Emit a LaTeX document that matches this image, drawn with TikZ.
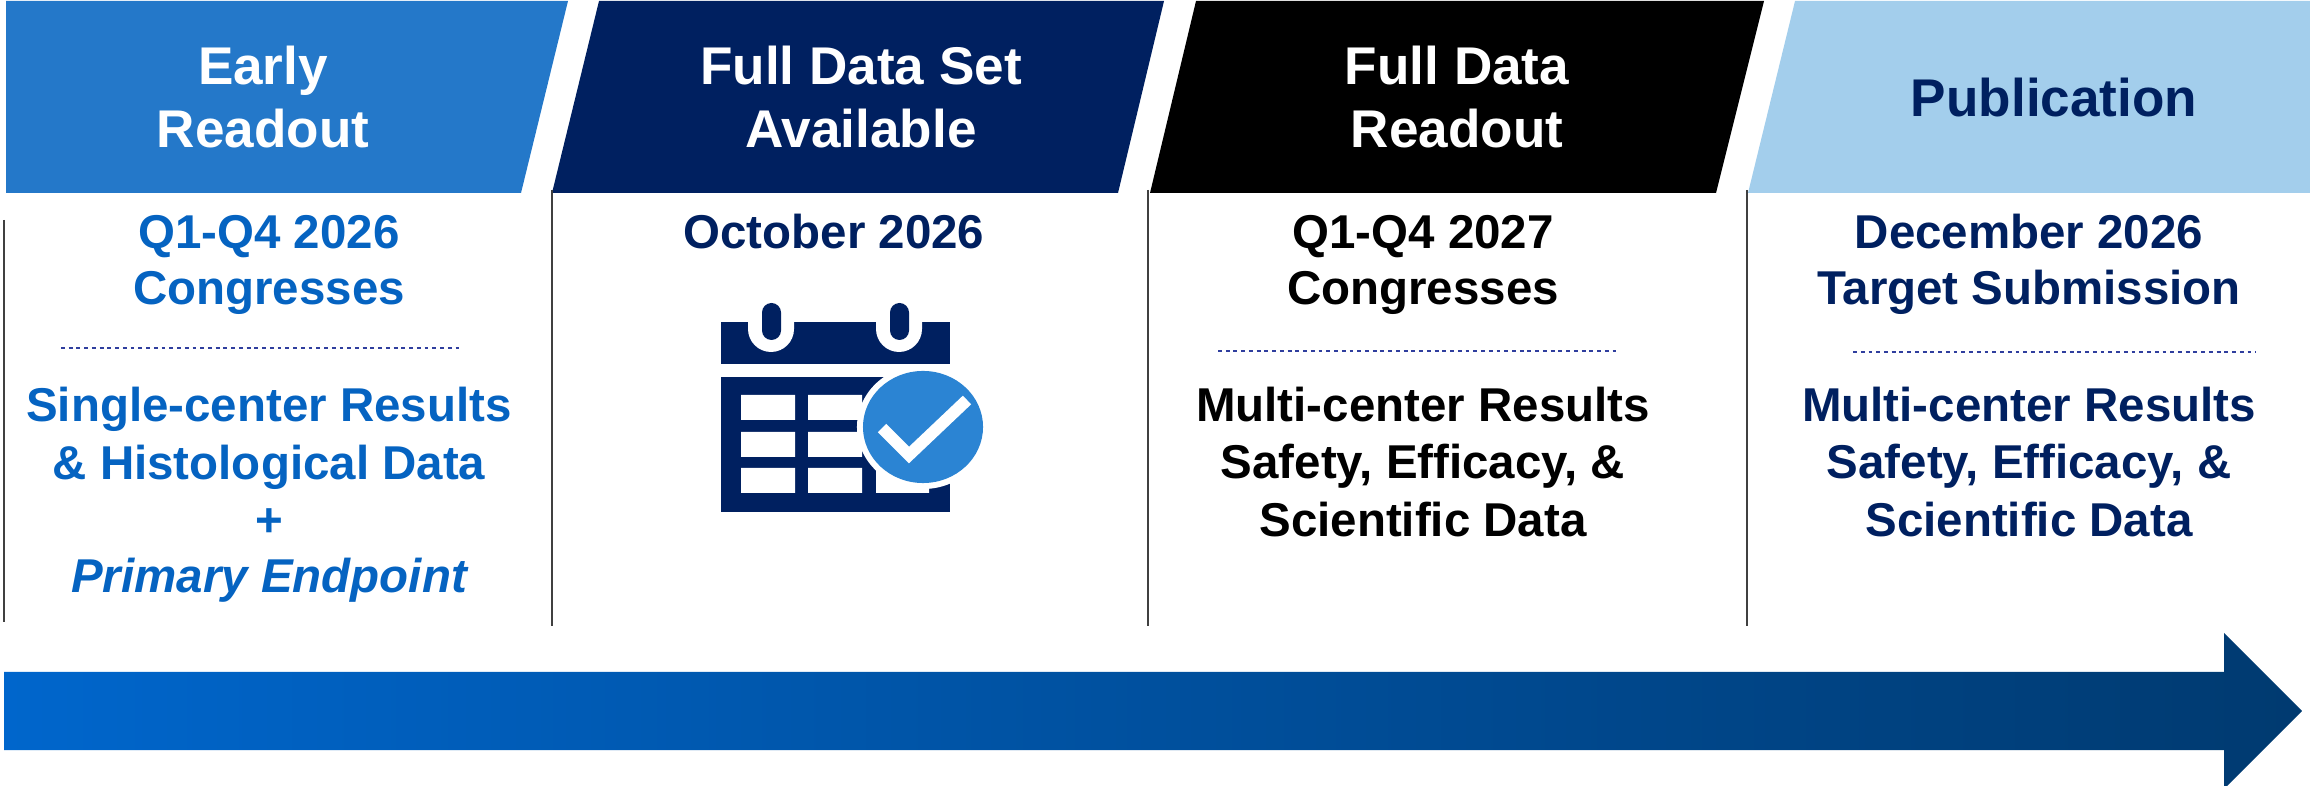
\documentclass[tikz,border=0pt]{standalone}
\usepackage{fontspec}
\setmainfont{Liberation Sans}
\usetikzlibrary{positioning}
\definecolor{bannerblue}{RGB}{36,120,201}
\definecolor{navy}{RGB}{0,32,96}
\definecolor{paleblue}{RGB}{163,206,236}
\definecolor{textblue}{RGB}{5,99,193}
\definecolor{checkblue}{RGB}{43,132,211}
\definecolor{dividergray}{RGB}{64,64,64}
\definecolor{dotblue}{RGB}{47,62,158}
\definecolor{arrowleft}{RGB}{0,102,204}
\definecolor{arrowright}{RGB}{0,58,112}
\tikzset{
    headtext/.style={font=\fontsize{15.1}{18}\selectfont\bfseries, text=white, inner sep=0pt, anchor=base},
    bodytext/.style={font=\fontsize{13.5}{16}\selectfont\bfseries, inner sep=0pt, anchor=base},
    divider/.style={draw=dividergray, line width=0.45pt},
    dotrule/.style={draw=dotblue, line width=0.4pt, dash pattern=on 1.1pt off 1.1pt}
}

\begin{document}
\begin{tikzpicture}[x=0.01cm, y=-0.01cm]
            \useasboundingbox (0,0) rectangle (2310,786);

            % banners
            \fill[bannerblue] (6,1) -- (568,1) -- (521,193) -- (6,193) -- cycle;
            \fill[navy] (599,1) -- (1164,1) -- (1118,193) -- (552,193) -- cycle;
            \fill[black] (1196,1) -- (1764,1) -- (1716,193) -- (1150,193) -- cycle;
            \fill[paleblue] (1795,1) -- (2310,1) -- (2310,193) -- (1748,193) -- cycle;

            \node[headtext] (earlytop) at (263,85) {Early};
            \node[headtext] (earlybot) at (263,148) {Readout};
            \node[headtext] (fullsettop) at (861,85) {Full Data Set};
            \node[headtext] (fullsetbot) at (861,148) {Available};
            \node[headtext] (fullreadtop) at (1457,85) {Full Data};
            \node[headtext] (fullreadbot) at (1457,148) {Readout};
            \node[headtext, text=navy] (pubhead) at (2054,117) {Publication};

            % column dividers
            \draw[divider] (4,220) -- (4,622);
            \draw[divider] (552,190) -- (552,626);
            \draw[divider] (1148,190) -- (1148,626);
            \draw[divider] (1747,190) -- (1747,626);

            % early readout
            \node[bodytext, text=textblue] (erdate) at (269,249) {Q1-Q4 2026};
            \node[bodytext, text=textblue] (ercong) at (269,305) {Congresses};
            \draw[dotrule] (61,348) -- (462,348);
            \node[bodytext, text=textblue] (erres) at (269,422) {Single-center Results};
            \node[bodytext, text=textblue] (erhist) at (269,480) {\& Histological Data};
            \node[bodytext, text=textblue] (erplus) at (269,537) {+};
            \node[bodytext, text=textblue, font=\fontsize{13.5}{16}\selectfont\bfseries\itshape] (erprim) at (269,593) {Primary Endpoint};

            % full data set available
            \node[bodytext, text=navy] (fdsdate) at (834,249) {October 2026};
            \fill[navy] (721,322) rectangle (950,364);
            \fill[white, rounded corners=0.23cm] (748,290) rectangle (794,352);
            \fill[white, rounded corners=0.23cm] (876,290) rectangle (922,352);
            \fill[navy, rounded corners=0.095cm] (762,303) rectangle (781,340);
            \fill[navy, rounded corners=0.095cm] (890,303) rectangle (909,340);
            \fill[navy] (721,377) rectangle (950,512);
            \fill[white] (741,395) rectangle (795,420) (808,395) rectangle (862,420) (876,395) rectangle (929,420)
                         (741,432) rectangle (795,457) (808,432) rectangle (862,457) (876,432) rectangle (929,457)
                         (741,468) rectangle (795,493) (808,468) rectangle (862,493) (876,468) rectangle (929,493);
            \fill[white] (923,427) ellipse [x radius=0.66cm, y radius=0.62cm];
            \fill[checkblue] (923,427) ellipse [x radius=0.6cm, y radius=0.56cm];
            \draw[white, line width=3.4pt] (882,428) -- (909,455) -- (967,400);

            % full data readout
            \node[bodytext] (fdrdate) at (1423,249) {Q1-Q4 2027};
            \node[bodytext] (fdrcong) at (1423,305) {Congresses};
            \draw[dotrule] (1218,351) -- (1620,351);
            \node[bodytext] (fdrres) at (1423,422) {Multi-center Results};
            \node[bodytext] (fdrsafe) at (1423,479) {Safety, Efficacy, \&};
            \node[bodytext] (fdrsci) at (1423,537) {Scientific Data};

            % publication
            \node[bodytext, text=navy] (pubdate) at (2029,249) {December 2026};
            \node[bodytext, text=navy] (pubtarget) at (2029,305) {Target Submission};
            \draw[dotrule] (1853,352) -- (2256,352);
            \node[bodytext, text=navy] (pubres) at (2029,422) {Multi-center Results};
            \node[bodytext, text=navy] (pubsafe) at (2029,479) {Safety, Efficacy, \&};
            \node[bodytext, text=navy] (pubsci) at (2029,537) {Scientific Data};

            % timeline arrow
            \shade[left color=arrowleft, right color=arrowright] (4,672) -- (2224,672) -- (2224,633) -- (2302,711) -- (2224,789) -- (2224,750) -- (4,750) -- cycle;
        \end{tikzpicture}
\end{document}
